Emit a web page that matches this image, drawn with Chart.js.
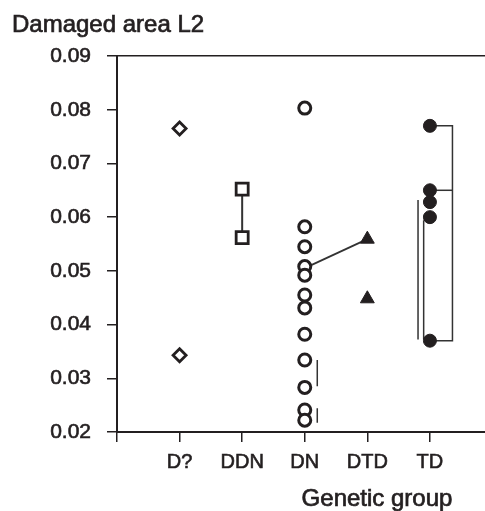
<!DOCTYPE html>
<html>
<head>
<meta charset="utf-8">
<script src="https://cdn.jsdelivr.net/npm/chart.js@4/dist/chart.umd.min.js"></script>
<style>
  html, body { margin: 0; padding: 0; background: #fff; overflow: hidden; }
  #wrap { width: 485px; height: 511px; }
</style>
</head>
<body>
<div id="wrap"><canvas id="chart"></canvas></div>
<script>
// Genetic groups along the x axis (index 0..4)
const categories = ['D?', 'DDN', 'DN', 'DTD', 'TD'];
const yTicks = [0.02, 0.03, 0.04, 0.05, 0.06, 0.07, 0.08, 0.09];

// Damaged area L2 per group
const dValues = [0.0765, 0.0343];
const ddnValues = [0.0652, 0.0562];
const dnValues = [0.0803, 0.0582, 0.0545, 0.0508, 0.0492, 0.0455, 0.0431, 0.0382, 0.0334, 0.0283, 0.0241, 0.0222];
const dtdValues = [0.0559, 0.0448];
const tdValues = [0.0770, 0.0650, 0.0628, 0.0600, 0.0370];

// connecting / bracket lines, [x, y] pairs
const ddnLink = [[1, 0.0652], [1, 0.0562]];
const dnDtdLink = [[2, 0.0505], [3, 0.0559]];
const dnBracketA = [[2.2, 0.0334], [2.2, 0.0285]];
const dnBracketB = [[2.2, 0.0244], [2.2, 0.0217]];
const tdBracketRight = [[4, 0.0770], [4.36, 0.0770], [4.36, 0.0370], [4, 0.0370]];
const tdBracketMid = [[4, 0.0650], [4.36, 0.0650]];
const tdLineLeftA = [[3.81, 0.0632], [3.81, 0.0372]];
const tdLineLeftB = [[3.90, 0.0594], [3.90, 0.0372]];

const ink = '#231f20';

function pts(x, values) {
  return values.map(v => ({ x: x, y: v }));
}
function path(pairs) {
  return pairs.map(p => ({ x: p[0], y: p[1] }));
}
function lineSet(pairs, width) {
  return {
    data: path(pairs),
    showLine: true,
    borderColor: '#333',
    borderWidth: width || 1.5,
    pointRadius: 0,
    fill: false,
  };
}

// draws the two axis captions where the original figure has them
const captions = {
  id: 'captions',
  afterDraw(chart) {
    const c = chart.ctx;
    c.save();
    c.fillStyle = ink;
    c.strokeStyle = ink;
    c.lineWidth = 0.7;
    c.font = '24px "Liberation Sans", Arial, sans-serif';
    c.textBaseline = 'alphabetic';
    c.textAlign = 'left';
    c.strokeText('Damaged area L2', 12, 31.5);
    c.fillText('Damaged area L2', 12, 31.5);
    c.textAlign = 'center';
    c.strokeText('Genetic group', 377, 506);
    c.fillText('Genetic group', 377, 506);
    c.restore();
  }
};

new Chart(document.getElementById('chart'), {
  type: 'scatter',
  data: {
    datasets: [
      {
        data: pts(0, dValues),
        pointStyle: 'rectRot',
        pointRadius: 6.5,
        borderWidth: 2.8,
        borderColor: ink,
        backgroundColor: '#fff',
      },
      {
        data: pts(1, ddnValues),
        pointStyle: 'rect',
        pointRadius: 8.5,
        borderWidth: 2.8,
        borderColor: ink,
        backgroundColor: '#fff',
      },
      {
        data: pts(2, dnValues),
        pointStyle: 'circle',
        pointRadius: 6,
        borderWidth: 3,
        borderColor: ink,
        backgroundColor: '#fff',
      },
      {
        data: pts(3, dtdValues),
        pointStyle: 'triangle',
        pointRadius: 8,
        borderWidth: 1,
        borderColor: ink,
        backgroundColor: ink,
      },
      {
        data: pts(4, tdValues),
        pointStyle: 'circle',
        pointRadius: 6.5,
        borderWidth: 1,
        borderColor: ink,
        backgroundColor: ink,
      },
      lineSet(ddnLink, 2),
      lineSet(dnDtdLink, 1.8),
      lineSet(dnBracketA),
      lineSet(dnBracketB),
      lineSet(tdBracketRight),
      lineSet(tdBracketMid),
      lineSet(tdLineLeftA),
      lineSet(tdLineLeftB),
    ]
  },
  plugins: [captions],
  options: {
    responsive: true,
    maintainAspectRatio: false,
    animation: false,
    layout: {
      autoPadding: false,
      padding: { top: 56, right: 0, bottom: 0, left: 0 }
    },
    plugins: {
      legend: { display: false },
      tooltip: { enabled: false },
    },
    scales: {
      x: {
        type: 'linear',
        min: -1,
        max: 4.88,
        afterFit: function(scale) { scale.height = 79; },
        afterBuildTicks: function(scale) {
          scale.ticks = scale.ticks.filter(t => Number.isInteger(t.value));
        },
        border: { display: true, color: ink, width: 2 },
        grid: {
          drawOnChartArea: false,
          tickLength: 10,
          tickColor: ink,
          lineWidth: 1.5,
        },
        ticks: {
          stepSize: 1,
          includeBounds: false,
          autoSkip: false,
          maxRotation: 0,
          padding: 8,
          color: ink,
          textStrokeColor: ink,
          textStrokeWidth: 0.6,
          font: { family: '"Liberation Sans", Arial, sans-serif', size: 20 },
          callback: function(value) {
            return categories[value] !== undefined ? categories[value] : '';
          }
        }
      },
      y: {
        min: yTicks[0],
        max: yTicks[yTicks.length - 1],
        afterFit: function(scale) { scale.width = 117; },
        afterBuildTicks: function(scale) {
          scale.ticks = yTicks.map(v => ({ value: v }));
        },
        border: { display: true, color: ink, width: 2 },
        grid: {
          drawOnChartArea: true,
          tickLength: 10,
          tickColor: ink,
          lineWidth: 1.5,
          color: function(ctx) {
            return ctx.tick && Math.abs(ctx.tick.value - 0.09) < 1e-9 ? ink : 'rgba(0,0,0,0)';
          }
        },
        ticks: {
          padding: 16,
          color: ink,
          textStrokeColor: ink,
          textStrokeWidth: 0.6,
          font: { family: '"Liberation Sans", Arial, sans-serif', size: 21 },
          callback: function(value) { return value.toFixed(2); }
        }
      }
    }
  }
});
</script>
</body>
</html>
